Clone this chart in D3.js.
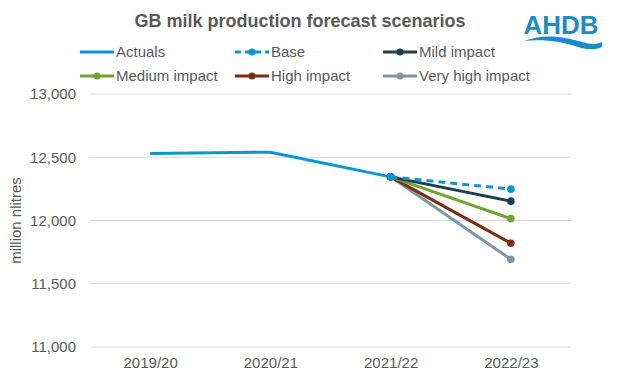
<!DOCTYPE html>
<html><head><meta charset="utf-8">
<script src="https://cdn.jsdelivr.net/npm/d3@7"></script>
<style>
body{margin:0;background:#fff;}
text{font-family:"Liberation Sans",Arial,sans-serif;}
</style></head>
<body><svg id="c" width="622" height="391"></svg>
<script>
const categories = ["2019/20","2020/21","2021/22","2022/23"];
const actuals  = [12530, 12540, 12345, null];
const base     = [null, null, 12345, 12248];
const mild     = [null, null, 12345, 12153];
const medium   = [null, null, 12345, 12015];
const high     = [null, null, 12345, 11820];
const veryHigh = [null, null, 12345, 11693];
const yTicks = [11000, 11500, 12000, 12500, 13000];
const seriesNames = ["Actuals","Base","Mild impact","Medium impact","High impact","Very high impact"];
const seriesColors = ["#0a96d6","#0a96d6","#1e3f4d","#6fa42f","#7b2d0f","#7d98a3"];

const series = [
  {name:seriesNames[0], values:actuals, color:seriesColors[0], dash:null, markers:false},
  {name:seriesNames[1], values:base, color:seriesColors[1], dash:"7,5", markers:true},
  {name:seriesNames[2], values:mild, color:seriesColors[2], dash:null, markers:true},
  {name:seriesNames[3], values:medium, color:seriesColors[3], dash:null, markers:true},
  {name:seriesNames[4], values:high, color:seriesColors[4], dash:null, markers:true},
  {name:seriesNames[5], values:veryHigh, color:seriesColors[5], dash:null, markers:true}
];

const svg = d3.select("#c");
const pL = 90, pR = 571, pT = 94, pB = 347;
const x = d3.scalePoint().domain(categories).range([pL, pR]).padding(0.5);
const y = d3.scaleLinear().domain([11000, 13000]).range([pB, pT]);
const grey = "#595959";

// gridlines
svg.append("g").selectAll("line").data(yTicks).join("line")
  .attr("x1", pL).attr("x2", pR)
  .attr("y1", d=>y(d)).attr("y2", d=>y(d))
  .attr("stroke", "#d9d9d9").attr("stroke-width", 1);

// y axis
const yAxis = d3.axisLeft(y).tickValues(yTicks).tickFormat(d3.format(",")).tickSize(0).tickPadding(14);
const gy = svg.append("g").attr("transform", `translate(${pL},0)`).call(yAxis);
gy.select(".domain").remove();
gy.selectAll("text").attr("fill", grey).style("font-size", "15px").style("font-family", '"Liberation Sans",Arial,sans-serif');

// x axis
const xAxis = d3.axisBottom(x).tickSize(0).tickPadding(10);
const gx = svg.append("g").attr("transform", `translate(0,${pB})`).call(xAxis);
gx.select(".domain").remove();
gx.selectAll("text").attr("fill", grey).style("font-size", "15px").style("font-family", '"Liberation Sans",Arial,sans-serif');

// y label
svg.append("text").attr("transform", `translate(21,${(pT+pB)/2}) rotate(-90)`)
  .attr("text-anchor", "middle").attr("fill", grey).style("font-size", "15px")
  .text("million nlitres");

const line = d3.line().defined(d=>d.v!=null).x(d=>x(d.c)).y(d=>y(d.v));
const order = [5,4,3,2,1,0];
order.forEach(i=>{
  const s = series[i];
  const pts = categories.map((c,j)=>({c, v:s.values[j]}));
  svg.append("path").datum(pts).attr("d", line).attr("fill","none")
    .attr("stroke", s.color).attr("stroke-width", 3)
    .attr("stroke-dasharray", s.dash).attr("stroke-linejoin","round");
  if (s.markers) {
    svg.append("g").selectAll("circle").data(pts.filter(d=>d.v!=null)).join("circle")
      .attr("cx", d=>x(d.c)).attr("cy", d=>y(d.v)).attr("r", 3.8).attr("fill", s.color);
  }
});

// title
svg.append("text").attr("x", 300).attr("y", 27).attr("text-anchor","middle")
  .attr("fill", grey).style("font-size","18px").style("font-weight","bold")
  .text("GB milk production forecast scenarios");

// legend
const legX = [80, 235, 383], legY = [52, 76];
series.forEach((s,i)=>{
  const lx = legX[i%3], ly = legY[Math.floor(i/3)];
  const g = svg.append("g");
  g.append("line").attr("x1", lx).attr("x2", lx+34).attr("y1", ly).attr("y2", ly)
    .attr("stroke", s.color).attr("stroke-width", 3).attr("stroke-dasharray", s.dash ? "6,4" : null);
  if (s.markers) g.append("circle").attr("cx", lx+17).attr("cy", ly).attr("r", 3.5).attr("fill", s.color);
  g.append("text").attr("x", lx+36).attr("y", ly+5).attr("fill", grey).style("font-size","15px").text(s.name);
});

// logo
const logo = svg.append("g");
logo.append("text").attr("x", 561).attr("y", 34).attr("text-anchor","middle")
  .attr("fill", "#1a8ccc").style("font-size","26px").style("font-weight","bold").text("AHDB");
logo.append("path")
  .attr("d", "M524,41 C545,33 565,37 582,42 C592,45 598,44 602,42 L602,47 C596,50 588,50 578,47 C562,42 545,39 524,41 Z")
  .attr("fill", "#1a8ccc");
</script></body></html>
